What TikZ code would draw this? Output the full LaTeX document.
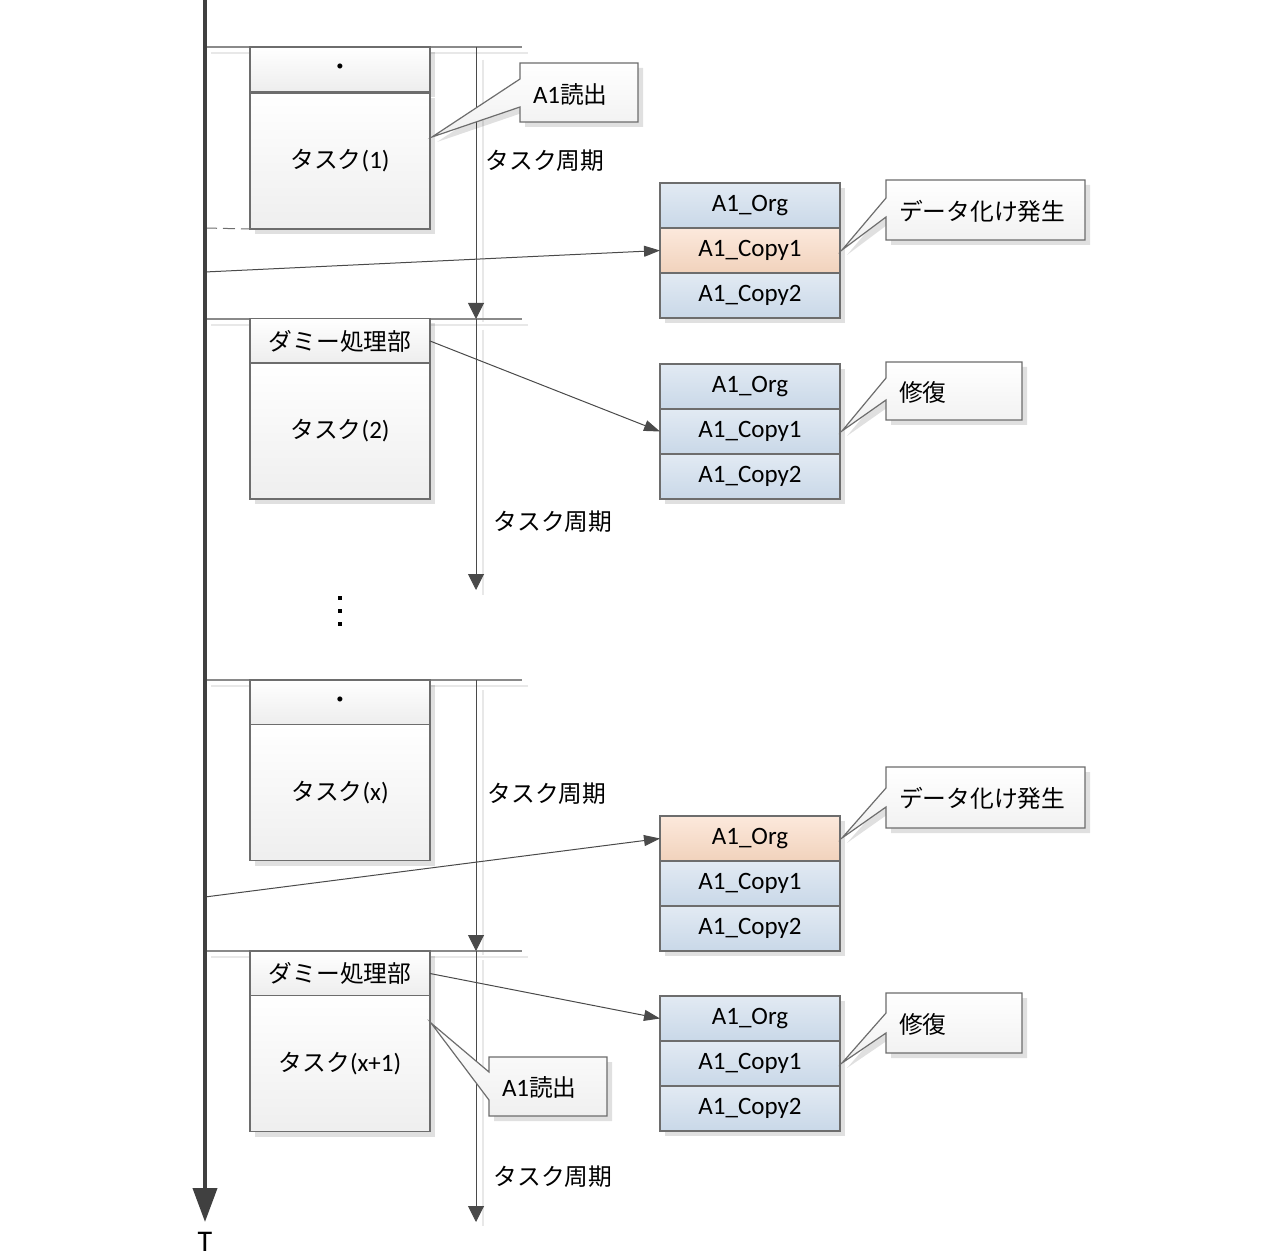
\documentclass[tikz,border=0pt]{standalone}
\usepackage{fontspec}
\setmainfont{Carlito}
\newfontfamily\cjk{Noto Sans CJK JP}[Scale=0.95]
\usetikzlibrary{arrows.meta,shadows,calc}
\definecolor{boxline}{HTML}{6D6D6D}
\definecolor{connline}{HTML}{4A4A4A}
\definecolor{boundline}{HTML}{8A8A8A}
\definecolor{bluetop}{HTML}{E2EAF3}
\definecolor{bluebot}{HTML}{C9D8E8}
\definecolor{orgtop}{HTML}{FCE9DC}
\definecolor{orgbot}{HTML}{F1D2BC}
\definecolor{timecol}{HTML}{404040}
\begin{document}
\begin{tikzpicture}[x=0.5pt,y=-0.5pt,
  font=\fontsize{12.5}{15}\selectfont,
  every node/.style={inner sep=0pt,outer sep=0pt},
  sh/.style={drop shadow={shadow xshift=2.5pt,shadow yshift=-2.5pt,fill=black,opacity=0.12}},
  taskhead/.style={draw=boxline,line width=0.6pt,top color=white,bottom color=gray!14,minimum width=90pt,minimum height=22.5pt,sh},
  taskbody/.style={draw=boxline,line width=0.6pt,top color=white,bottom color=gray!13,minimum width=90pt,minimum height=68pt,sh},
  bluecell/.style={draw=boxline,line width=0.6pt,top color=bluetop,bottom color=bluebot,minimum width=90pt,minimum height=22.5pt,sh},
  orgcell/.style={draw=boxline,line width=0.6pt,top color=orgtop,bottom color=orgbot,minimum width=90pt,minimum height=22.5pt,sh},
  calloutshape/.style={draw=boxline,line width=0.6pt,top color=white,bottom color=gray!12,sh},
  conn/.style={draw=connline,line width=0.5pt,-{Triangle[length=8pt,width=5.5pt]}},
  period/.style={draw=connline,line width=0.5pt,-{Triangle[length=8pt,width=8pt]}},
  bound/.style={draw=boundline,line width=0.6pt},
  faint/.style={draw=gray!18,line width=0.6pt},
  timeline/.style={draw=timecol,line width=2pt,-{Triangle[length=17pt,width=12pt]}},
  lbl/.style={font=\fontsize{12.5}{15}\selectfont}
]
\useasboundingbox[fill=white] (0,0) rectangle (1284,1256);

% faint shadow lines
\draw[faint] (211,53) -- (528,53);
\draw[faint] (211,325) -- (528,325);
\draw[faint] (211,686) -- (528,686);
\draw[faint] (211,957) -- (528,957);
\draw[faint] (483,60) -- (483,322);
\draw[faint] (483,330) -- (483,595);
\draw[faint] (483,690) -- (483,955);
\draw[faint] (483,960) -- (483,1226);

% boundary lines
\coordinate (b1s) at (205,47);  \coordinate (b1e) at (522,47);
\coordinate (b2s) at (205,319); \coordinate (b2e) at (522,319);
\coordinate (b3s) at (205,680); \coordinate (b3e) at (522,680);
\coordinate (b4s) at (205,951); \coordinate (b4e) at (522,951);
\draw[bound] (b1s) -- (b1e);
\draw[bound] (b2s) -- (b2e);
\draw[bound] (b3s) -- (b3e);
\draw[bound] (b4s) -- (b4e);

% period arrows
\coordinate (p1s) at (476,47);  \coordinate (p1e) at (476,319);
\coordinate (p2s) at (476,319); \coordinate (p2e) at (476,590);
\coordinate (p3s) at (476,680); \coordinate (p3e) at (476,951);
\coordinate (p4s) at (476,951); \coordinate (p4e) at (476,1222);
\draw[period] (p1s) -- (p1e);
\draw[period] (p2s) -- (p2e);
\draw[period] (p3s) -- (p3e);
\draw[period] (p4s) -- (p4e);
\node[lbl] (l1) at (545,161) {\cjk タスク周期};
\node[lbl] (l2) at (553,522) {\cjk タスク周期};
\node[lbl] (l3) at (547,794) {\cjk タスク周期};
\node[lbl] (l4) at (553,1177) {\cjk タスク周期};

% task boxes
\node[taskhead] (h1) at (340,69.5) {\cjk\raisebox{-1.5pt}{・}};
\node[taskbody] (t1) at (340,161) {{\cjk タスク}(1)};
\node[taskhead] (h2) at (340,341) {\cjk ダミー処理部};
\node[taskbody] (t2) at (340,431) {{\cjk タスク}(2)};
\node[taskhead] (h3) at (340,702.5) {\cjk\raisebox{-1.5pt}{・}};
\node[taskbody] (t3) at (340,792.5) {{\cjk タスク}(x)};
\node[taskhead] (h4) at (340,973.5) {\cjk ダミー処理部};
\node[taskbody] (t4) at (340,1063.5) {{\cjk タスク}(x+1)};

% vertical ellipsis
\fill[black] (338,596) rectangle (342,600);
\fill[black] (338,609) rectangle (342,613);
\fill[black] (338,622) rectangle (342,626);

% dashed line
\coordinate (dsh) at (205,228);
\draw[boundline!80!black,line width=0.5pt,dash pattern=on 6pt off 3pt] (dsh) -- (t1.south west);

% data blocks
\node[bluecell] (d1a) at (750,205.5) {A1\_Org};
\node[orgcell]  (d1b) at (750,250.5) {A1\_Copy1};
\node[bluecell] (d1c) at (750,295.5) {A1\_Copy2};

\node[bluecell] (d2a) at (750,386.5) {A1\_Org};
\node[bluecell] (d2b) at (750,431.5) {A1\_Copy1};
\node[bluecell] (d2c) at (750,476.5) {A1\_Copy2};

\node[orgcell]  (d3a) at (750,838.5) {A1\_Org};
\node[bluecell] (d3b) at (750,883.5) {A1\_Copy1};
\node[bluecell] (d3c) at (750,928.5) {A1\_Copy2};

\node[bluecell] (d4a) at (750,1018.5) {A1\_Org};
\node[bluecell] (d4b) at (750,1063.5) {A1\_Copy1};
\node[bluecell] (d4c) at (750,1108.5) {A1\_Copy2};

% callouts
\path[calloutshape] (520,63) -- (520,79) -- (432,137) -- (520,107) -- (520,122) -- (638,122) -- (638,63) -- cycle;
\node[anchor=west] (c1) at (533,94) {A1{\cjk 読出}};

\path[calloutshape] (886,180) -- (886,198) -- (842,250) -- (886,217) -- (886,240) -- (1085,240) -- (1085,180) -- cycle;
\node[anchor=west] (c2) at (899,211) {\cjk データ化け発生};

\path[calloutshape] (886,362) -- (886,378) -- (842,431) -- (886,400) -- (886,420) -- (1022,420) -- (1022,362) -- cycle;
\node[anchor=west] (c3) at (899,392) {\cjk 修復};

\path[calloutshape] (886,767) -- (886,788) -- (842,838) -- (886,807) -- (886,828) -- (1085,828) -- (1085,767) -- cycle;
\node[anchor=west] (c4) at (899,798.5) {\cjk データ化け発生};

\path[calloutshape] (886,993) -- (886,1013) -- (842,1063) -- (886,1033) -- (886,1053) -- (1022,1053) -- (1022,993) -- cycle;
\node[anchor=west] (c5) at (899,1024) {\cjk 修復};

\path[calloutshape] (489,1057) -- (489,1072) -- (431,1023) -- (489,1100) -- (489,1116) -- (607,1116) -- (607,1057) -- cycle;
\node[anchor=west] (c6) at (502,1087.5) {A1{\cjk 読出}};

% connectors
\coordinate (tl1) at (205,272);
\coordinate (tl3) at (205,897);
\draw[conn] (tl1) -- (d1b.west);
\draw[conn] (h2.east) -- (d2b.west);
\draw[conn] (tl3) -- (d3a.west);
\draw[conn] (h4.east) -- (d4a.west);

% timeline
\coordinate (ttop) at (205,0);
\coordinate (tbot) at (205,1222);
\draw[timeline] (ttop) -- (tbot);
\node[anchor=base,font=\fontsize{15}{16}\selectfont] (tlabel) at (205,1251) {T};
\end{tikzpicture}
\end{document}
